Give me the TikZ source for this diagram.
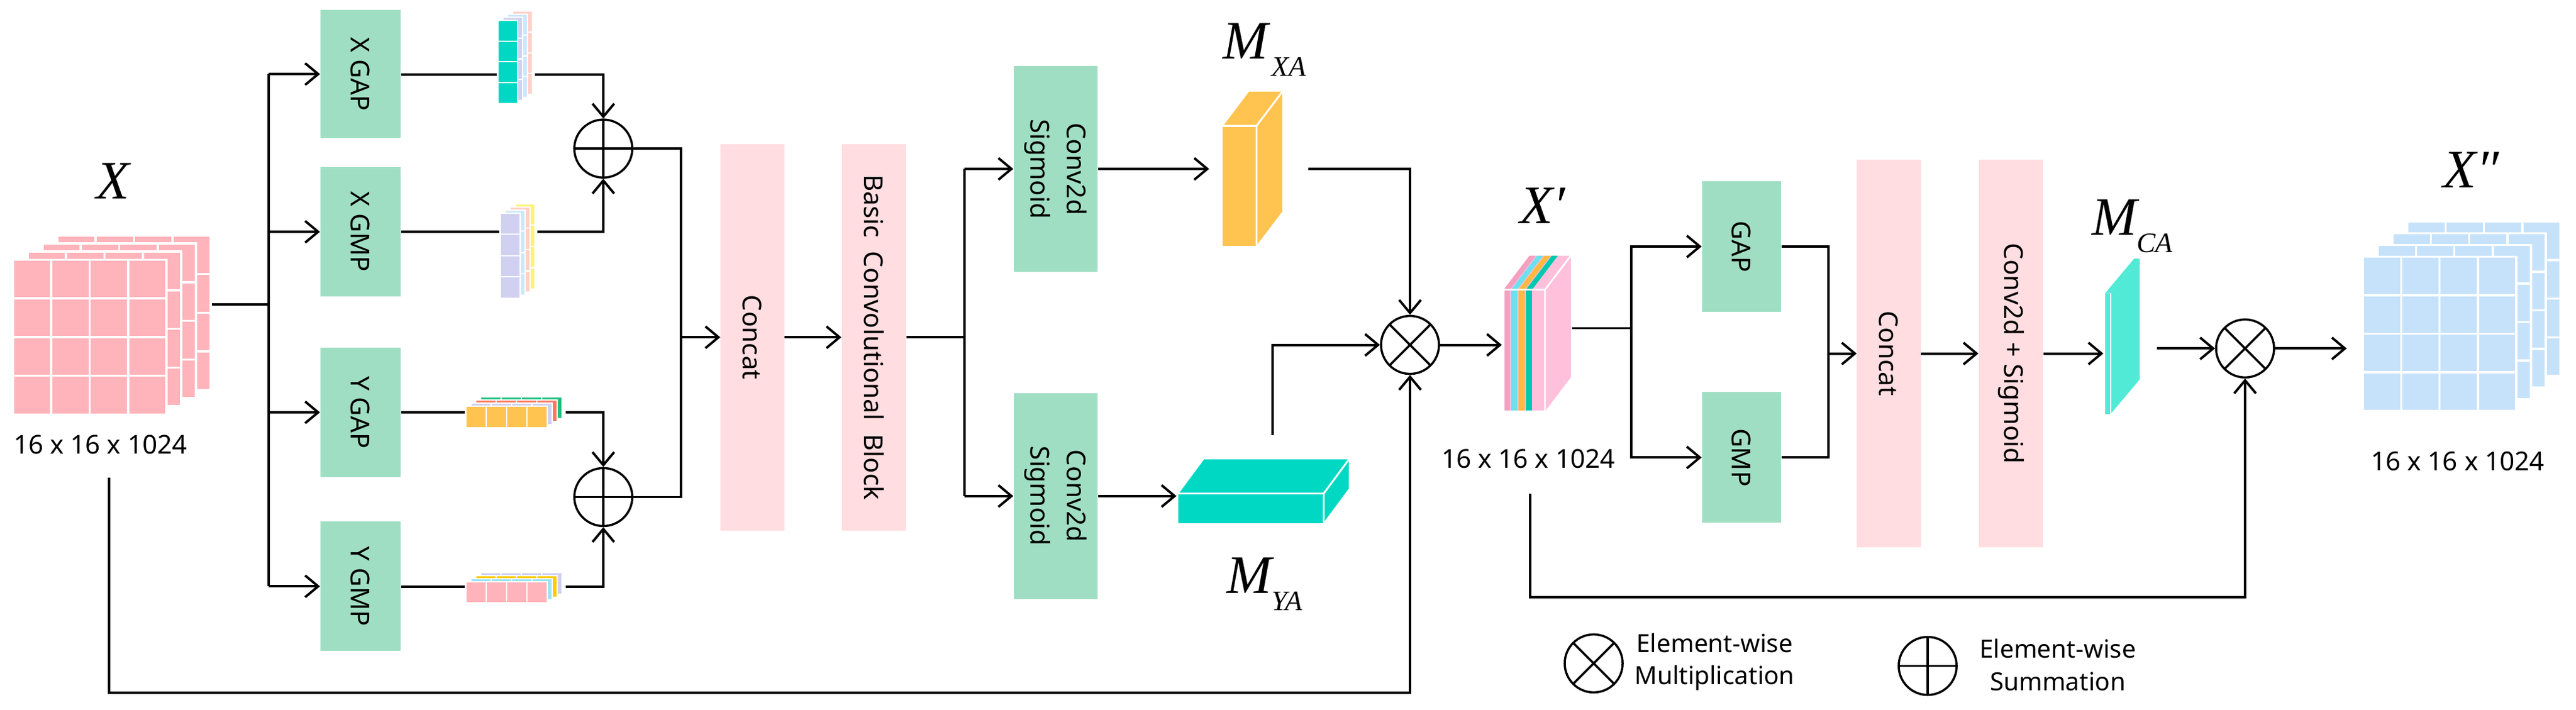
\documentclass[tikz,border=0pt]{standalone}
\usepackage{fontspec}
\setmainfont{Noto Sans}
\newfontfamily\tmr{Liberation Serif}
\usetikzlibrary{arrows.meta,calc}
\definecolor{gcol}{HTML}{A0DEC3}
\definecolor{pcol}{HTML}{FFDDE1}
\definecolor{xpink}{HTML}{FFB3BA}
\definecolor{xblue}{HTML}{C6E2FA}
\definecolor{teal1}{HTML}{00D8C4}
\definecolor{teal2}{HTML}{50EAD6}
\definecolor{orng}{HTML}{FFC34F}
\definecolor{lav}{HTML}{D0D0F0}
\definecolor{lpink}{HTML}{FFD0C8}
\definecolor{lblue}{HTML}{CDE8F8}
\definecolor{lyel}{HTML}{FFF27A}
\definecolor{redc}{HTML}{FF7A60}
\definecolor{grnc}{HTML}{20C080}
\definecolor{cyanc}{HTML}{9BE3F5}
\definecolor{yelc}{HTML}{FFCC00}
\definecolor{xppink}{HTML}{FFC0DC}
\definecolor{stpink}{HTML}{F4A0C0}
\definecolor{stcyan}{HTML}{6DE0F0}
\definecolor{storng}{HTML}{FFB840}
\definecolor{stteal}{HTML}{00C8B0}
\begin{document}
\begin{tikzpicture}[x=0.01cm,y=-0.00822cm,
 ln/.style={line width=1.1pt},
 ar/.style={ln,-{Straight Barb[length=6pt,width=10pt,line width=1.1pt]}},
 gbox/.style={fill=gcol,minimum width=1.3cm,inner sep=0},
 pbox/.style={fill=pcol,minimum width=1.03cm,minimum height=6.27cm,inner sep=0},
 lbl/.style={rotate=-90,font=\fontsize{12}{17}\selectfont,align=center},
 dim/.style={font=\fontsize{12}{14}\selectfont},
 mlab/.style={font=\tmr\itshape\fontsize{25}{27}\selectfont},
 cop/.style={circle,draw,line width=1pt,minimum size=0.94cm,inner sep=0},
 otm/.style={cop,path picture={\draw[line width=1pt] (path picture bounding box.north west)--(path picture bounding box.south east) (path picture bounding box.north east)--(path picture bounding box.south west);}},
 opl/.style={cop,path picture={\draw[line width=1pt] (path picture bounding box.north)--(path picture bounding box.south) (path picture bounding box.east)--(path picture bounding box.west);}},
 cell/.style={draw=white,line width=0.6pt}]
\useasboundingbox (0,0) rectangle (4180,1399);

% ---------- X tensor ----------
\foreach \k in {3,2,1,0}{
  \begin{scope}[shift={(24*\k,-16*\k)}]
    \fill[xpink] (21,512) rectangle (270,817);
    \foreach \i in {1,2,3}{\draw[white,line width=1pt] (21+62.25*\i,512)--(21+62.25*\i,817);
      \draw[white,line width=1pt] (21,512+76.25*\i)--(270,512+76.25*\i);}
    \draw[white,line width=1pt] (21,512) rectangle (270,817);
  \end{scope}}
\node[mlab] (lX) at (183,357) {X};
\node[dim] (dX) at (163,877) {16 x 16 x 1024};
\coordinate (xout) at (344,600);
\coordinate (jx) at (436,600);
\coordinate (xskip) at (177,942);

% ---------- boxes ----------
\node[gbox,minimum height=2.08cm] (xgap) at (585,146) {};
\node[lbl] at (xgap) {X GAP};
\node[gbox,minimum height=2.1cm] (xgmp) at (585,457) {};
\node[lbl] at (xgmp) {X GMP};
\node[gbox,minimum height=2.1cm] (ygap) at (585,813) {};
\node[lbl] at (ygap) {Y GAP};
\node[gbox,minimum height=2.1cm] (ygmp) at (585,1156) {};
\node[lbl] at (ygmp) {Y GMP};
\node[pbox] (cat1) at (1221,665) {};
\node[lbl] at (cat1) {Concat};
\node[pbox,minimum width=1.04cm] (bcb) at (1418,665) {};
\node[lbl] at (bcb) {Basic\ \ Convolutional\ \ Block};
\node[gbox,minimum width=1.36cm,minimum height=3.34cm] (cs1) at (1713,333) {};
\node[lbl] at (cs1) {Conv2d\\Sigmoid};
\node[gbox,minimum width=1.36cm,minimum height=3.34cm] (cs2) at (1713,978) {};
\node[lbl] at (cs2) {Conv2d\\Sigmoid};
\node[gbox,minimum width=1.28cm,minimum height=2.12cm] (gap2) at (2826,486) {};
\node[lbl] at (gap2) {GAP};
\node[gbox,minimum width=1.28cm,minimum height=2.12cm] (gmp2) at (2826,902) {};
\node[lbl] at (gmp2) {GMP};
\node[pbox,minimum height=6.28cm] (cat2) at (3065,697) {};
\node[lbl] at (cat2) {Concat};
\node[pbox,minimum width=1.04cm,minimum height=6.28cm] (conv2) at (3263,697) {};
\node[lbl] at (conv2) {Conv2d + Sigmoid};

% ---------- strips ----------
\foreach \k/\c in {3/lpink,2/lblue,1/lav}{
  \foreach \i in {0,...,3}{\fill[\c,cell] (808+8*\k,40-6*\k+41*\i) rectangle ++(32,41);}}
\foreach \i in {0,...,3}{\fill[teal1,cell] (808,40+41*\i) rectangle ++(32,41);}
\foreach \k/\c in {3/lyel,2/lpink,1/lblue}{
  \foreach \i in {0,...,3}{\fill[\c,cell] (812+8*\k,420-6*\k+42*\i) rectangle ++(32,42);}}
\foreach \i in {0,...,3}{\fill[lav,cell] (812,420+42*\i) rectangle ++(32,42);}
\foreach \k/\c in {3/grnc,2/redc,1/lav}{
  \foreach \i in {0,...,3}{\fill[\c,cell] (756+8*\k+33*\i,801-6*\k) rectangle ++(33,42);}}
\foreach \i in {0,...,3}{\fill[orng,cell] (756+33*\i,801) rectangle ++(33,42);}
\foreach \k/\c in {3/lav,2/yelc,1/cyanc}{
  \foreach \i in {0,...,3}{\fill[\c,cell] (756+8*\k+33*\i,1147-6*\k) rectangle ++(33,42);}}
\foreach \i in {0,...,3}{\fill[xpink,cell] (756+33*\i,1147) rectangle ++(33,42);}
\coordinate (s1l) at (806,147); \coordinate (s1r) at (868,147);
\coordinate (s2l) at (810,457); \coordinate (s2r) at (872,457);
\coordinate (s3l) at (754,813); \coordinate (s3r) at (918,813);
\coordinate (s4l) at (754,1157); \coordinate (s4r) at (918,1157);

% ---------- operators ----------
\node[opl] (p1) at (979,293) {};
\node[opl] (p2) at (979,980) {};
\node[otm] (ot1) at (2288,680) {};
\node[otm] (ot2) at (3643,687) {};

% ---------- MXA, MYA ----------
\filldraw[orng,draw=white,line width=0.8pt] (1983,248) rectangle (2039,487);
\filldraw[orng,draw=white,line width=0.8pt] (1983,248)--(2039,248)--(2082,179)--(2026,179)--cycle;
\filldraw[orng,draw=white,line width=0.8pt] (2039,248)--(2082,179)--(2082,418)--(2039,487)--cycle;
\node (lmxa) at (2052,98) {{\tmr\itshape\fontsize{25}{27}\selectfont M}\,\raisebox{-8pt}{\tmr\itshape\fontsize{13}{15}\selectfont XA}};
\filldraw[teal1,draw=white,line width=0.8pt] (1911,973) rectangle (2148,1033);
\filldraw[teal1,draw=white,line width=0.8pt] (1911,973)--(2148,973)--(2190,904)--(1953,904)--cycle;
\filldraw[teal1,draw=white,line width=0.8pt] (2148,973)--(2190,904)--(2190,964)--(2148,1033)--cycle;
\node (lmya) at (2052,1152) {{\tmr\itshape\fontsize{25}{27}\selectfont M}\raisebox{-8pt}{\tmr\itshape\fontsize{13}{15}\selectfont YA}};

% ---------- X' ----------
\fill[xppink] (2507,571)--(2549,504)--(2549,744)--(2507,811)--cycle;
\fill[xppink] (2440,571)--(2507,571)--(2549,504)--(2482,504)--cycle;
\fill[xppink] (2440,571) rectangle (2507,811);
\foreach \a/\c in {0/stpink,12/stcyan,24/storng,36/stteal}{
  \fill[\c] (2440+\a,571) rectangle ++(10,240);
  \fill[\c] (2440+\a,571)--++(10,0)--++(42,-67)--++(-10,0)--cycle;}
\draw[white,line width=0.8pt] (2440,571) rectangle (2507,811) (2507,571)--(2549,504);
\node[mlab] (lXp) at (2503,406) {X′};
\node[dim] (dXp) at (2480,904) {16 x 16 x 1024};
\coordinate (xpout) at (2551,647);
\coordinate (j2) at (2647,647);
\coordinate (xpskip) at (2483,973);

% ---------- MCA ----------
\fill[teal2] (3416,578)--(3425,578)--(3472,510)--(3463,510)--cycle;
\fill[teal2] (3425,578)--(3472,510)--(3472,748)--(3425,816)--cycle;
\fill[teal2] (3416,578) rectangle (3425,816);
\draw[white,line width=0.8pt] (3425,578)--(3425,816);
\node (lmca) at (3460,446) {{\tmr\itshape\fontsize{25}{27}\selectfont M}\raisebox{-8pt}{\tmr\itshape\fontsize{13}{15}\selectfont CA}};

% ---------- X'' tensor ----------
\foreach \k in {3,2,1,0}{
  \begin{scope}[shift={(24*\k,-23*\k)}]
    \fill[xblue] (3834,506) rectangle (4083,810);
    \foreach \i in {1,2,3}{\draw[white,line width=1pt] (3834+62.25*\i,506)--(3834+62.25*\i,810);
      \draw[white,line width=1pt] (3834,506+76*\i)--(4083,506+76*\i);}
    \draw[white,line width=1pt] (3834,506) rectangle (4083,810);
  \end{scope}}
\node[mlab] (lXpp) at (4010,335) {X″};
\node[dim] (dXpp) at (3988,909) {16 x 16 x 1024};
\coordinate (xppin) at (3808,687);

% ---------- connectors ----------
\draw[ln] (xout)--(jx);
\draw[ln] (jx|-xgap.west)--(jx|-ygmp.west);
\draw[ar] (jx|-xgap.west)--(xgap.west);
\draw[ar] (jx|-xgmp.west)--(xgmp.west);
\draw[ar] (jx|-ygap.west)--(ygap.west);
\draw[ar] (jx|-ygmp.west)--(ygmp.west);
\draw[ln] (xgap.east|-s1l)--(s1l); \draw[ar] (s1r)-|(p1.north);
\draw[ln] (xgmp.east|-s2l)--(s2l); \draw[ar] (s2r)-|(p1.south);
\draw[ln] (ygap.east|-s3l)--(s3l); \draw[ar] (s3r)-|(p2.north);
\draw[ln] (ygmp.east|-s4l)--(s4l); \draw[ar] (s4r)-|(p2.south);
\coordinate (j1) at (1105,665);
\draw[ln] (p1.east)-|(j1|-p1.east)--(j1|-p2.east)--(p2.east);
\draw[ar] (j1)--(cat1.west);
\draw[ar] (cat1.east)--(bcb.west);
\coordinate (j3) at (1565,665);
\draw[ln] (bcb.east)--(j3);
\draw[ln] (j3|-cs1.west)--(j3|-cs2.west);
\draw[ar] (j3|-cs1.west)--(cs1.west);
\draw[ar] (j3|-cs2.west)--(cs2.west);
\coordinate (mxain) at (1962,333);
\coordinate (mxaout) at (2123,333);
\coordinate (myain) at (1909,978);
\coordinate (myaout) at (2065,858);
\draw[ar] (cs1.east)--(mxain);
\draw[ar] (cs2.east)--(myain);
\draw[ar] (mxaout)-|(ot1.north);
\draw[ar] (myaout)|-(ot1.west);
\draw[ar] (xskip)--(xskip|-0,1366)-|(ot1.south);
\coordinate (xpin) at (2437,680);
\draw[ar] (ot1.east)--(xpin);
\draw[ln] (xpout)--(j2);
\draw[ar] (j2)|-(gap2.west);
\draw[ar] (j2)|-(gmp2.west);
\coordinate (j4) at (2967,697);
\draw[ln] (gap2.east)-|(j4)|-(gmp2.east);
\draw[ar] (j4)--(cat2.west);
\draw[ar] (cat2.east)--(conv2.west);
\coordinate (mcain) at (3413,697);
\coordinate (mcaout) at (3500,687);
\draw[ar] (conv2.east)--(mcain);
\draw[ar] (mcaout)--(ot2.west);
\draw[ar] (ot2.east)--(xppin);
\draw[ar] (xpskip)--(xpskip|-0,1177)-|(ot2.south);

% ---------- legend ----------
\node[otm] (lg1) at (2586,1308) {};
\node[anchor=west,align=center,font=\fontsize{11.5}{15}\selectfont] (lg1t) at (2640,1305) {Element-wise\\Multiplication};
\node[opl] (lg2) at (3128,1313) {};
\node[anchor=west,align=center,font=\fontsize{11.5}{15}\selectfont] (lg2t) at (3200,1311) {Element-wise\\Summation};
\end{tikzpicture}
\end{document}
